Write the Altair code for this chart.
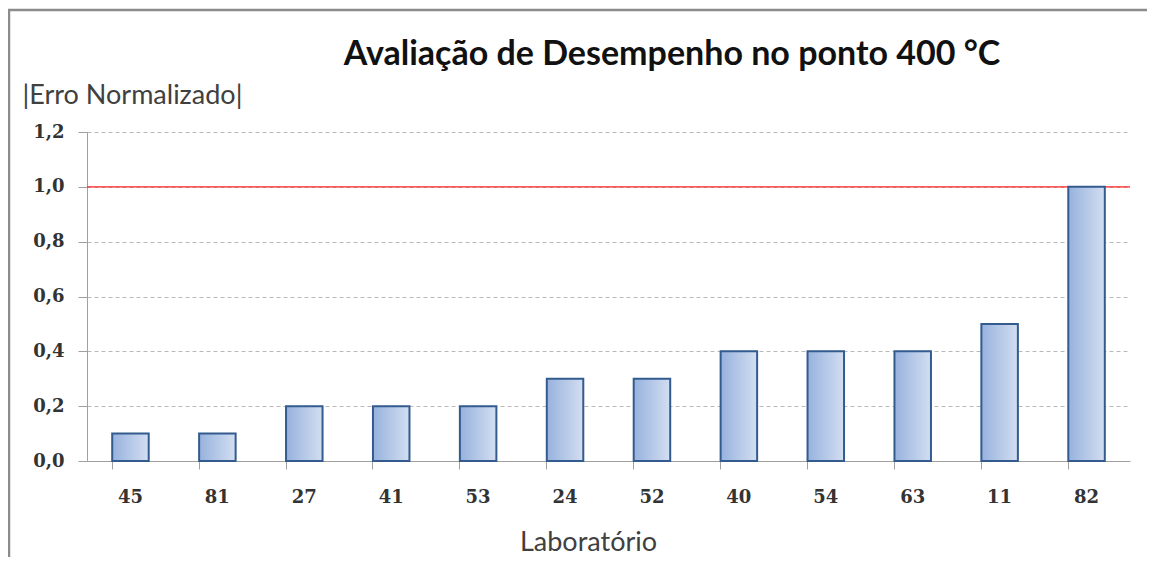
import altair as alt
import pandas as pd

labs = ["45", "81", "27", "41", "53", "24", "52", "40", "54", "63", "11", "82"]
vals = [0.1, 0.1, 0.2, 0.2, 0.2, 0.3, 0.3, 0.4, 0.4, 0.4, 0.5, 1.0]
limit = [1.0]
title_txt = ["Avaliação de Desempenho no ponto 400 °C"]

df = pd.DataFrame({"lab": labs, "val": vals})
df_lim = pd.DataFrame({"lim": limit})
df_title = pd.DataFrame({"t": title_txt})

FONT = "Lato"
NUMFONT = "DejaVu Serif"
W, H = 1043, 329

xscale = alt.Scale(paddingInner=0.58, paddingOuter=0.29)
yscale = alt.Scale(domain=[0, 1.2], nice=False)

yaxis = alt.Axis(title="|Erro Normalizado|", titleAngle=0,
                 titleX=-65, titleY=-29, titleAlign="left",
                 titleBaseline="alphabetic", titleFont=FONT,
                 titleFontSize=27, titleFontWeight="normal",
                 titleColor="#404040",
                 values=[0, 0.2, 0.4, 0.6, 0.8, 1.0, 1.2],
                 labelExpr="replace(format(datum.value, '.1f'), '.', ',')",
                 labelFont=NUMFONT, labelFontSize=18,
                 labelFontWeight="bold", labelColor="#333333",
                 labelPadding=14, tickSize=9, tickColor="#a0a0a0",
                 domainColor="#a0a0a0", grid=True,
                 gridColor="#b8b8b8", gridDash=[4, 3])

grad = alt.Gradient(
    gradient="linear",
    x1=0, x2=1, y1=0, y2=0,
    stops=[alt.GradientStop(offset=0, color="#97b2de"),
           alt.GradientStop(offset=1, color="#d3def1")],
)

rule = alt.Chart(df_lim).mark_rule(color="#ff2020", strokeWidth=1.3).encode(
    y=alt.Y("lim:Q", scale=yscale, axis=yaxis)
)

ticks_layer = alt.Chart(df).mark_bar(opacity=0).encode(
    x=alt.X("lab:N", sort=labs, scale=xscale,
            axis=alt.Axis(orient="bottom", bandPosition=0, labels=False,
                          ticks=True, tickSize=8, tickColor="#a0a0a0",
                          domain=False, title=None, grid=False)),
    y=alt.Y("val:Q", scale=yscale, axis=yaxis),
)

bars = alt.Chart(df).mark_bar(
    color=grad, stroke="#335b8e", strokeWidth=2
).encode(
    x=alt.X("lab:N", sort=labs, scale=xscale,
            axis=alt.Axis(orient="bottom", title="Laboratório", ticks=False,
                          labelAngle=0, labelFont=NUMFONT, labelFontSize=18,
                          labelFontWeight="bold", labelColor="#333333",
                          labelPadding=27, domainColor="#a0a0a0",
                          titleFont=FONT, titleFontSize=27,
                          titleFontWeight="normal", titleColor="#404040",
                          titleX=501, titleY=89, titleBaseline="alphabetic",
                          titleAnchor="middle", titleAlign="center")),
    y=alt.Y("val:Q", scale=yscale, axis=yaxis),
)

title = alt.Chart(df_title).mark_text(
    font=FONT, fontSize=34, fontWeight="bold", color="#111111",
    align="center", baseline="alphabetic"
).encode(
    text="t:N", x=alt.value(585), y=alt.value(-67)
)

border = alt.Chart(df_lim).mark_rect(
    fill=None, stroke="#8c8c8c", strokeWidth=2.5
).encode(
    x=alt.value(-78), x2=alt.value(1300),
    y=alt.value(-122), y2=alt.value(600),
)

chart = alt.layer(rule, ticks_layer, bars, title, border).resolve_axis(
    x="independent"
).properties(
    width=W, height=H,
    autosize=alt.AutoSizeParams(type="none"),
    padding={"left": 79, "top": 124, "right": 17, "bottom": 96},
).configure_view(stroke=None)

chart.save("out.html", embed_options={"renderer": "svg", "actions": False})
